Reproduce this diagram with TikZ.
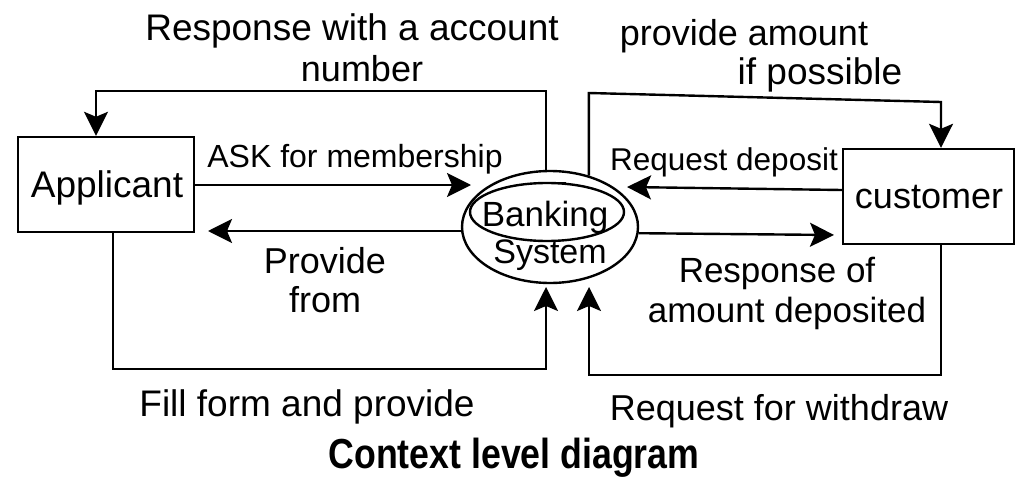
\documentclass[tikz,border=0pt]{standalone}
\usepackage{fontspec}
\setmainfont{Liberation Sans}
\newfontfamily\titlefont[FakeStretch=0.85]{Liberation Sans}
\usetikzlibrary{arrows.meta,shapes.geometric}
\newcommand{\fsz}[1]{\fontsize{#1}{#1}\selectfont}
\begin{document}
\begin{tikzpicture}[x=1pt,y=-1pt,
  ln/.style={line width=2.4pt},
  arr/.style={ln,-{Stealth[length=24pt,width=24pt,inset=5pt]}},
  box/.style={draw,ln,rectangle,inner sep=0pt},
  lbl/.style={anchor=base,inner sep=0pt}]
\useasboundingbox (0,0) rectangle (1024,476);
\fill[white] (0,0) rectangle (1024,476);

% entities
\node[box,minimum width=176pt,minimum height=95pt] (app) at (106,184.5) {};
\node[box,minimum width=171pt,minimum height=95pt] (cust) at (928.5,196.5) {};
\node[draw,ln,ellipse,minimum width=176pt,minimum height=112pt,inner sep=0pt] (bank) at (550,227) {};
\draw[ln] (547,212) ellipse [x radius=77pt, y radius=29pt];
\draw[line width=1.5pt] (546,183) -- (566,183);

% coordinates
\coordinate (askend) at (471,185);
\coordinate (provend) at (208,231);
\coordinate (fillend) at (546,287);
\coordinate (trc) at (941,102);
\coordinate (rdend) at (627,187);
\coordinate (rsend) at (834,235);
\coordinate (wdend) at (589,287);

% connectors
\draw[arr] ([xshift=-4pt]bank.north) -- ([xshift=-4pt]bank.north |- 0,91) -| ([xshift=-10pt]app.north);
\draw[arr] (app.east |- askend) -- (askend);
\draw[arr] (bank.west |- provend) -- (provend);
\draw[arr] ([xshift=7pt]app.south) |- (fillend |- 0,369) -- (fillend);
\draw[arr] (bank.53) -- (bank.53 |- 0,93) -- (trc) -- ([xshift=12.5pt]cust.north);
\draw[arr] ([yshift=6.5pt]cust.west) -- (rdend);
\draw[arr] (bank.-4) -- (rsend);
\draw[arr] ([xshift=12.5pt]cust.south) |- (wdend |- 0,375) -- (wdend);

% labels
\node[lbl,font=\fsz{37}] (t1) at (352,41) {Response with a account};
\node[lbl,font=\fsz{36}] (t2) at (362,82) {number};
\node[lbl,font=\fsz{36}] (t3) at (744,46) {provide amount};
\node[lbl,font=\fsz{37}] (t4) at (820,85) {if possible};
\node[lbl,font=\fsz{32}] (t5) at (355,167) {ASK for membership};
\node[lbl,font=\fsz{37}] (t6) at (107,197) {Applicant};
\node[lbl,font=\fsz{36}] (t7) at (325,273) {Provide};
\node[lbl,font=\fsz{36}] (t8) at (325,312) {from};
\node[lbl,font=\fsz{35}] (t9) at (545,226) {Banking};
\node[lbl,font=\fsz{34}] (t10) at (550,263) {System};
\node[lbl,font=\fsz{31.5}] (t11) at (724,170) {Request deposit};
\node[lbl,font=\fsz{36}] (t12) at (929,208) {customer};
\node[lbl,font=\fsz{35}] (t13) at (777,282) {Response of};
\node[lbl,font=\fsz{35}] (t14) at (787,322) {amount deposited};
\node[lbl,font=\fsz{37}] (t15) at (307,416) {Fill form and provide};
\node[lbl,font=\fsz{36}] (t16) at (779,420) {Request for withdraw};
\node[lbl,font=\titlefont\bfseries\fsz{42}] (t17) at (514,468) {Context level diagram};
\end{tikzpicture}
\end{document}
